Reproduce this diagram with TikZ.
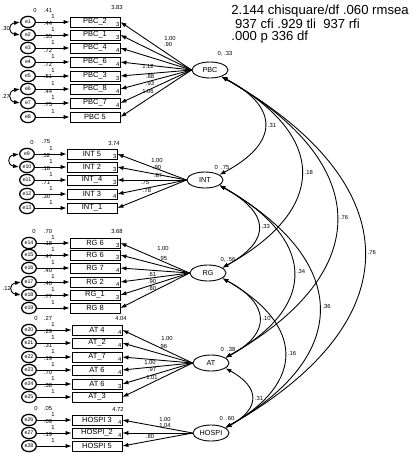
\documentclass[tikz,border=0pt]{standalone}
\usepackage{fontspec}
\setmainfont{Liberation Sans}
\usetikzlibrary{arrows.meta,shapes.geometric}

\begin{document}
\begin{tikzpicture}[
  x=0.3mm,
  y=-0.3mm,
  >={Latex[length=1.8mm,width=1.3mm]},
  line width=0.75pt,
  item/.style={rectangle,draw,minimum width=15mm,minimum height=3mm,inner sep=0pt,
    font=\fontsize{6.4}{7}\selectfont},
  err/.style={ellipse,draw,line width=1.1pt,minimum width=4.4mm,minimum height=3.4mm,
    inner sep=0pt,font=\fontsize{4.5}{5}\selectfont},
  latent/.style={ellipse,draw,minimum width=10.8mm,minimum height=4.8mm,inner sep=0pt,
    font=\fontsize{6.2}{7}\selectfont},
  est/.style={font=\fontsize{5}{5}\selectfont,inner sep=0.5pt},
  cov/.style={<->}
]
  \useasboundingbox (0,0) rectangle (413,454);

  % fit indices
  \node[anchor=north west,align=left,inner sep=0pt,font=\fontsize{11.2}{10}\selectfont]
    (fit) at (231,5) {2.144 chisquare/df .060 rmsea\\
    \ 937 cfi .929 tli \ 937 rfi\\
    .000 p 336 df};

  % latent variables
  \node[latent] (PBC) at (210,70) {PBC};
  \node[latent] (INT) at (205,180) {INT};
  \node[latent] (RG) at (208,273) {RG};
  \node[latent] (AT) at (211,363) {AT};
  \node[latent] (HOSPI) at (211,433) {HOSPI};
  \node[est] at (225,54) {0, .33};
  \node[est] at (222,167) {0 \ .75};
  \node[est] at (228,260) {0, .56};
  \node[est] at (228,349) {0 \ .38};
  \node[est] at (227,418) {0 \ .60};

  % PBC indicators
  \foreach \i/\lab/\y/\v/\d in {1/PBC\_2/22/.41/3,2/PBC\_1/35/.44/3,3/PBC\_4/48/.35/4,
      4/PBC\_6/62/.72/4,5/PBC\_3/76/.72/3,6/PBC\_8/89/.51/4,7/PBC\_7/103/.44/4,
      8/PBC 5/117/.75/{}} {
    \node[item] (p\i) at (95,\y) {\lab};
    \node[err] (ep\i) at (28,\y) {e\i};
    \node[est] at (48,\y-12) {\v};
    \node[est] at (53,\y-6) {1};
    \node[est,anchor=south east] at (p\i.south east) {\d};
    \draw[->] (ep\i) -- (p\i);
    \draw[->] (PBC.west) -- (p\i.east);
  }
  \node[est] at (35,10) {0};
  \node[est] at (117,7) {3.83};

  % INT indicators
  \foreach \i/\lab/\y/\v/\d/\e in {1/INT 5/154/.75/3/9,2/INT 2/167/.52/3/10,
      3/INT\_4/180/.18/3/11,4/INT 3/194/.71/4/12,5/INT\_1/208/.30/{}/13} {
    \node[item] (i\i) at (92,\y) {\lab};
    \node[err] (ei\i) at (27,\y) {e\e};
    \node[est] at (46,\y-12) {\v};
    \node[est] at (51,\y-6) {1};
    \node[est,anchor=south east] at (i\i.south east) {\d};
    \draw[->] (ei\i) -- (i\i);
    \draw[->] (INT.west) -- (i\i.east);
  }
  \node[est] at (32,142) {0};
  \node[est] at (114,143) {3.74};

  % RG indicators
  \foreach \i/\lab/\y/\v/\d/\e in {1/RG 6/243/.70/3/14,2/RG 6/255/.18/3/15,
      3/RG 7/268/.47/4/16,4/RG 2/282/.40/4/17,5/RG\_1/295/.40/3/18,6/RG 8/308/.77/{}/19} {
    \node[item] (r\i) at (95,\y) {\lab};
    \node[err] (er\i) at (29,\y) {e\e};
    \node[est] at (48,\y-12) {\v};
    \node[est] at (53,\y-6) {1};
    \node[est,anchor=south east] at (r\i.south east) {\d};
    \draw[->] (er\i) -- (r\i);
    \draw[->] (RG.west) -- (r\i.east);
  }
  \node[est] at (34,231) {0};
  \node[est] at (117,231) {3.68};

  % AT indicators
  \foreach \i/\lab/\y/\v/\d/\e in {1/AT 4/330/.27/4/20,2/AT\_2/343/.29/4/21,
      3/AT\_7/357/.31/4/22,4/AT 6/370/.19/4/23,5/AT 6/384/.70/3/24,6/AT\_3/397/.38/{}/25} {
    \node[item] (a\i) at (97,\y) {\lab};
    \node[err] (ea\i) at (29,\y) {e\e};
    \node[est] at (48,\y-12) {\v};
    \node[est] at (53,\y-6) {1};
    \node[est,anchor=south east] at (a\i.south east) {\d};
    \draw[->] (ea\i) -- (a\i);
    \draw[->] (AT.west) -- (a\i.east);
  }
  \node[est] at (36,318) {0};
  \node[est] at (121,318) {4.04};

  % HOSPI indicators
  \foreach \i/\lab/\y/\v/\d/\e in {1/HOSPI 3/420/.05/4/26,2/HOSPI\_2/433/.09/4/27,
      3/HOSPI 5/446/.19/{}/28} {
    \node[item] (h\i) at (97,\y) {\lab};
    \node[err] (eh\i) at (29,\y) {e\e};
    \node[est] at (48,\y-12) {\v};
    \node[est] at (53,\y-6) {1};
    \node[est,anchor=south east] at (h\i.south east) {\d};
    \draw[->] (eh\i) -- (h\i);
    \draw[->] (HOSPI.west) -- (h\i.east);
  }
  \node[est] at (36,408) {0};
  \node[est] at (118,409) {4.72};

  % loadings
  \foreach \t/\x/\y in {1.00/170/38,.90/168/44,1.12/148/66,.88/150/76,.93/150/83,1.06/148/91,
      1.00/157/160,.90/157/167,.87/158/175,.75/145/183,.78/147/190,
      1.00/163/248,.95/163/258,.61/152/274,.90/152/281,.80/152/288,
      1.00/167/338,.96/163/346,1.00/150/362,.97/152/369,1.01/152/377,
      1.00/165/419,1.04/165/425,.80/150/436}
    \node[est] at (\x,\y) {\t};

  % error covariances
  \draw[cov] (ep1.west) .. controls +(-12,2) and +(-12,-2) .. (ep2.west)
    node[est,pos=0.5,left=0pt] {.30};
  \draw[cov] (ep6.west) .. controls +(-12,2) and +(-12,-2) .. (ep7.west)
    node[est,pos=0.5,left=0pt] {.27};
  \draw[cov] (ei1.west) .. controls +(-12,2) and +(-12,-2) .. (ei2.west);
  \draw[cov] (er4.west) .. controls +(-12,2) and +(-12,-2) .. (er5.west)
    node[est,pos=0.5,left=0pt] {.12};

  % latent covariances
  \draw[cov] (PBC.-30) .. controls +(59,31) and +(59,-31) .. (INT.20)
    node[est,pos=0.5,right=2pt] {.31};
  \draw[cov] (PBC.-30) .. controls +(106,59) and +(106,-59) .. (RG.20)
    node[est,pos=0.5,right=2pt] {.18};
  \draw[cov] (PBC.-30) .. controls +(151,86) and +(151,-86) .. (AT.20)
    node[est,pos=0.5,right=2pt] {.76};
  \draw[cov] (PBC.-30) .. controls +(188,107) and +(188,-107) .. (HOSPI.20)
    node[est,pos=0.5,right=2pt] {.76};
  \draw[cov] (INT.-20) .. controls +(50,28) and +(50,-28) .. (RG.20)
    node[est,pos=0.5,right=2pt] {.33};
  \draw[cov] (INT.-20) .. controls +(95,53) and +(95,-53) .. (AT.20)
    node[est,pos=0.5,right=2pt] {.34};
  \draw[cov] (INT.-20) .. controls +(129,74) and +(129,-74) .. (HOSPI.20)
    node[est,pos=0.5,right=2pt] {.36};
  \draw[cov] (RG.-20) .. controls +(47,25) and +(47,-25) .. (AT.20)
    node[est,pos=0.5,right=2pt] {.10};
  \draw[cov] (RG.-20) .. controls +(81,46) and +(81,-46) .. (HOSPI.20)
    node[est,pos=0.5,right=2pt] {.16};
  \draw[cov] (AT.-20) .. controls +(35,19) and +(35,-19) .. (HOSPI.20)
    node[est,pos=0.5,right=2pt] {.31};
\end{tikzpicture}
\end{document}
